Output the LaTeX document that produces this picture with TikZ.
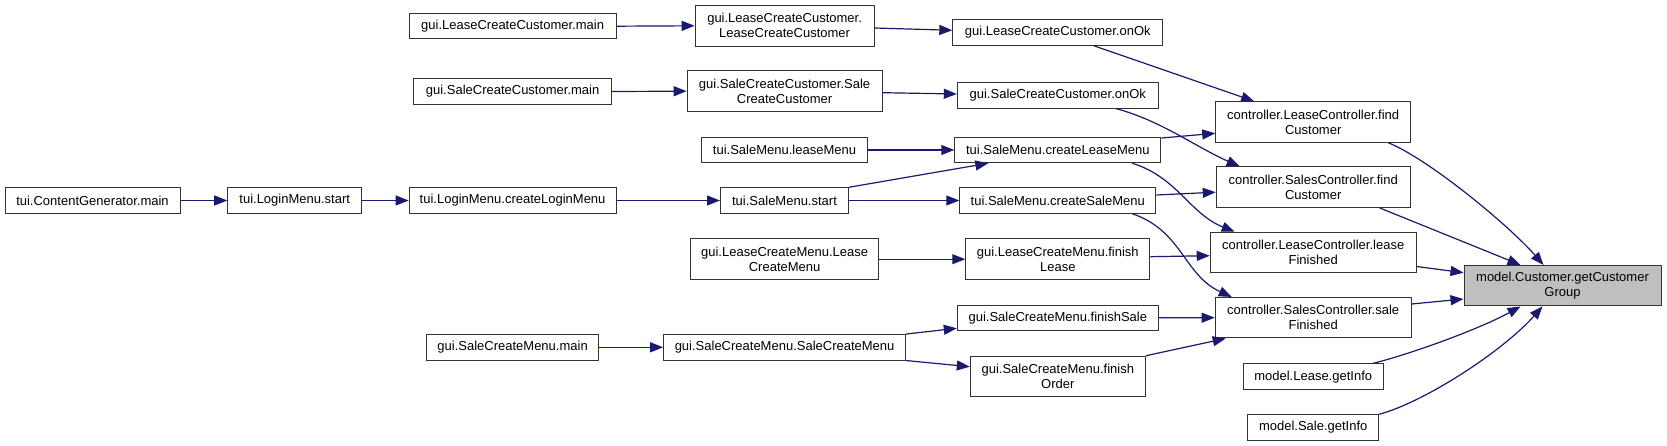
\documentclass[tikz,border=0pt]{standalone}
\usepackage{fontspec}
\setmainfont{Liberation Sans}
\usetikzlibrary{arrows.meta}
\definecolor{edgeblue}{HTML}{191970}
\definecolor{targetgray}{HTML}{BFBFBF}
\definecolor{boxline}{HTML}{333333}
\begin{document}
\begin{tikzpicture}[x=1pt,y=-1pt,
  box/.style={draw=boxline, line width=1pt, inner sep=0pt, align=center,
    font=\fontsize{13}{15}\selectfont, minimum height=25.5pt},
  box2/.style={box, minimum height=40.5pt},
  edge/.style={draw=edgeblue, line width=1.2pt, -{Triangle[length=13pt,width=10pt]}}]
\useasboundingbox (0,0) rectangle (1667,446);
\fill[white] (0,0) rectangle (1667,446);
% nodes
\node[box,minimum width=175pt] (cgmain) at (92.5,200.5) {tui.ContentGenerator.main};
\node[box,minimum width=134pt] (lmstart) at (294.7,200.5) {tui.LoginMenu.start};
\node[box,minimum width=207pt] (lmcreate) at (512.6,200.5) {tui.LoginMenu.createLoginMenu};
\node[box,minimum width=128pt] (smstart) at (784.5,200.5) {tui.SaleMenu.start};
\node[box,minimum width=196pt] (smsale) at (1057.8,200.5) {tui.SaleMenu.createSaleMenu};
\node[box,minimum width=206pt] (smlease) at (1057.8,150) {tui.SaleMenu.createLeaseMenu};
\node[box,minimum width=166pt] (smleasemenu) at (784.5,150) {tui.SaleMenu.leaseMenu};
\node[box,minimum width=207pt] (lccmain) at (512.6,26.2) {gui.LeaseCreateCustomer.main};
\node[box2,minimum width=179pt] (lccctor) at (784.6,25.8) {gui.LeaseCreateCustomer.\\LeaseCreateCustomer};
\node[box,minimum width=210pt] (lccok) at (1057.8,32.5) {gui.LeaseCreateCustomer.onOk};
\node[box,minimum width=198pt] (sccmain) at (512.6,91.5) {gui.SaleCreateCustomer.main};
\node[box2,minimum width=195pt] (sccctor) at (784.6,91.2) {gui.SaleCreateCustomer.Sale\\CreateCustomer};
\node[box,minimum width=201pt] (sccok) at (1057.8,95.3) {gui.SaleCreateCustomer.onOk};
\node[box2,minimum width=195pt] (lcfind) at (1313.2,122) {controller.LeaseController.find\\Customer};
\node[box2,minimum width=194pt] (scfind) at (1313.2,187.2) {controller.SalesController.find\\Customer};
\node[box2,minimum width=188pt] (lcmctor) at (784.6,259.2) {gui.LeaseCreateMenu.Lease\\CreateMenu};
\node[box2,minimum width=184pt] (lcmfin) at (1057.8,259.2) {gui.LeaseCreateMenu.finish\\Lease};
\node[box2,minimum width=206pt] (lcfinished) at (1313.2,252.5) {controller.LeaseController.lease\\Finished};
\node[box2,minimum width=196pt] (scfinished) at (1313.2,317.7) {controller.SalesController.sale\\Finished};
\node[box,minimum width=172pt] (scmmain) at (512.6,347.3) {gui.SaleCreateMenu.main};
\node[box,minimum width=242pt] (scmctor) at (784.6,347.3) {gui.SaleCreateMenu.SaleCreateMenu};
\node[box,minimum width=201pt] (scmsale) at (1057.8,317.8) {gui.SaleCreateMenu.finishSale};
\node[box2,minimum width=175pt] (scmorder) at (1057.8,376.5) {gui.SaleCreateMenu.finish\\Order};
\node[box2,minimum width=197pt,fill=targetgray] (target) at (1562.5,285.7) {model.Customer.getCustomer\\Group};
\node[box,minimum width=140pt] (leaseinfo) at (1313.2,376.7) {model.Lease.getInfo};
\node[box,minimum width=131pt] (saleinfo) at (1313.2,427.5) {model.Sale.getInfo};
% edges
\draw[edge] (cgmain.east) -- (lmstart.west);
\draw[edge] (lmstart.east) -- (lmcreate.west);
\draw[edge] (lmcreate.east) -- (smstart.west);
\draw[edge] (smstart.north east) -- ([xshift=34pt]smlease.south west);
\draw[edge] (smstart.east) -- (smsale.west);
\draw[edge] (smleasemenu.east) -- (smlease.west);
\draw[edge] (lccmain.east) -- (lccctor.west);
\draw[edge] ([yshift=-2.2pt]lccctor.east) -- ([yshift=2.2pt]lccok.west);
\draw[edge] (sccmain.east) -- (sccctor.west);
\draw[edge] ([yshift=-1.5pt]sccctor.east) -- ([yshift=1.3pt]sccok.west);
\draw[edge] ([xshift=36pt]lccok.south) -- ([xshift=39pt]lcfind.north west);
\draw[edge] ([yshift=-1.3pt]smlease.north east) -- ([yshift=-11.3pt]lcfind.west);
\draw[edge] ([xshift=58pt]sccok.south) .. controls +(45,12) and +(-45,-20) .. ([xshift=24pt]scfind.north west);
\draw[edge] ([yshift=5.5pt]smsale.east) -- ([yshift=-5pt]scfind.west);
\draw[edge] ([xshift=74.5pt]smlease.south) .. controls +(45,14) and +(-45,-18) .. ([xshift=25pt]lcfinished.north west);
\draw[edge] ([xshift=74.5pt]smsale.south) .. controls +(50,17) and +(-48,-22) .. ([xshift=17pt]scfinished.north west);
\draw[edge] ([yshift=2.5pt]lcmfin.east) -- ([yshift=-3.2pt]lcfinished.west);
\draw[edge] (scmsale.east) -- (scfinished.west);
\draw[edge] (scmorder.north east) -- ([xshift=11pt]scfinished.south west);
\draw[edge] (lcmctor.east) -- (lcmfin.west);
\draw[edge] (scmmain.east) -- (scmctor.west);
\draw[edge] (scmctor.north east) -- ([yshift=-10.5pt]scmsale.west);
\draw[edge] (scmctor.south east) -- ([yshift=9.8pt]scmorder.west);
\draw[edge] ([xshift=-23pt]lcfind.south east) .. controls +(40,16) and +(-35,-40) .. ([xshift=80pt]target.north west);
\draw[edge] ([xshift=-31pt]scfind.south east) -- ([xshift=57pt]target.north west);
\draw[edge] ([yshift=-14pt]lcfinished.east) -- ([yshift=13pt]target.west);
\draw[edge] ([yshift=13.7pt]scfinished.east) -- ([yshift=-13.3pt]target.west);
\draw[edge] ([xshift=-11pt]leaseinfo.north east) .. controls +(40,-10) and +(-40,22) .. ([xshift=57pt]target.south west);
\draw[edge] (saleinfo.north east) .. controls +(45,-12) and +(-40,45) .. ([xshift=79pt]target.south west);
\end{tikzpicture}
\end{document}
